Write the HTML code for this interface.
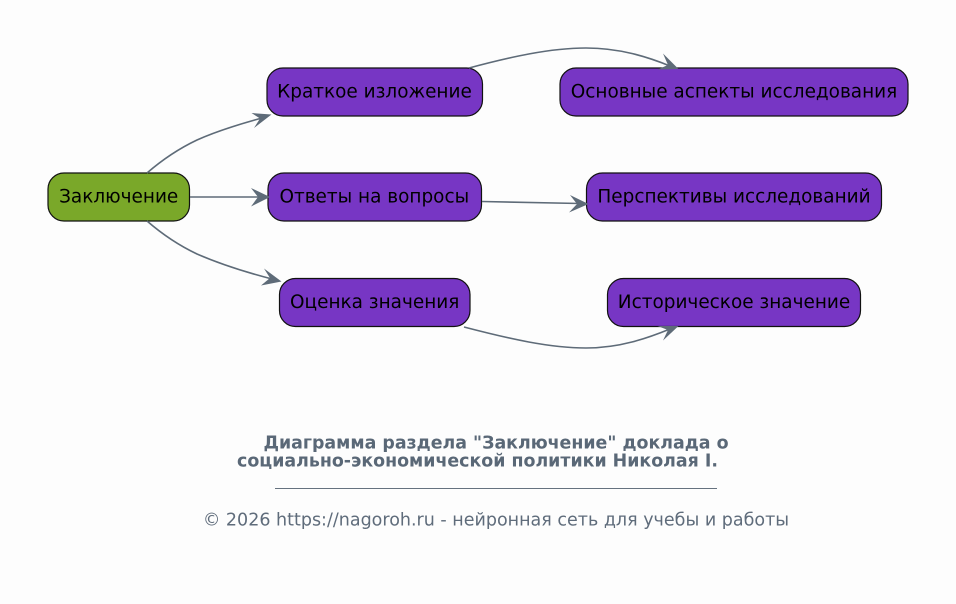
<!DOCTYPE html>
<html lang="ru">
<head>
<meta charset="utf-8">
<title>Диаграмма</title>
<style>
html,body{margin:0;padding:0;background:#fdfdfd;width:956px;height:604px;overflow:hidden}
svg{display:block}
text{font-family:"DejaVu Sans",sans-serif}
.n{font-size:18.45px;fill:#000;text-anchor:middle}
.b{fill:#7736c4;stroke:#111;stroke-width:1.2}
.e{fill:none;stroke:#5e6b78;stroke-width:1.6}
.a{fill:#5e6b78}
.t{font-size:17.4px;font-weight:bold;fill:#5a6877;text-anchor:middle}
</style>
</head>
<body>
<svg width="956" height="604" viewBox="0 0 956 604" xmlns="http://www.w3.org/2000/svg">
<rect width="956" height="604" fill="#fdfdfd"/>

<rect class="b" x="48" y="173" width="141.500" height="48" rx="16" style="fill:#7aa829"/>
<text class="n" x="118.700" y="202.500">Заключение</text>

<rect class="b" x="267" y="68" width="215.500" height="48" rx="16"/>
<text class="n" x="374.500" y="97.500">Краткое изложение</text>
<rect class="b" x="268" y="173" width="213.500" height="48" rx="16"/>
<text class="n" x="374.300" y="202.500">Ответы на вопросы</text>
<rect class="b" x="279.500" y="278.500" width="190.500" height="48" rx="16"/>
<text class="n" x="374.700" y="308">Оценка значения</text>

<rect class="b" x="560" y="68" width="348" height="48" rx="16"/>
<text class="n" x="734" y="97.500">Основные аспекты исследования</text>
<rect class="b" x="586.500" y="173" width="295" height="48" rx="16"/>
<text class="n" x="734" y="202.500">Перспективы исследований</text>
<rect class="b" x="607.500" y="278.500" width="253" height="48" rx="16"/>
<text class="n" x="734" y="308">Историческое значение</text>

<path class="e" d="M147 173C162 160 178 149 197 140C217 131 240 124 262 118"/>
<path class="a" d="M271.500 114.500L254 128L260 118.500L251.500 113Z"/>
<path class="e" d="M190 197L262 197"/>
<path class="a" d="M270 197L251 206.500L258 197L251 188Z"/>
<path class="e" d="M147 221C162 234 178 245 197 254C220 264 245 272 272 279"/>
<path class="a" d="M281.500 281.500L261 285.500L270 278L264 268.500Z"/>
<path class="e" d="M469 68C510 57 550 48 586 48C620 48 648 57 670 66"/>
<path class="a" d="M678.500 69L657.500 69.500L668 65L663 53.500Z"/>
<path class="e" d="M482 201.500L580 203.500"/>
<path class="a" d="M588.500 204L569 212.500L577 204L570 195Z"/>
<path class="e" d="M464 327C510 339 550 348 586 348C620 348 648 338 670 329"/>
<path class="a" d="M678.500 326L663 340.500L668 330L657.500 326Z"/>

<text class="t" x="496" y="448.500">Диаграмма раздела "Заключение" доклада о</text>
<text class="t" x="477.500" y="466.500">социально-экономической политики Николая I.</text>
<rect x="275" y="488" width="442" height="1" fill="#66727f"/>
<text x="496" y="525.500" font-size="17.5" fill="#5f6c7b" text-anchor="middle">© 2026 https://nagoroh.ru - нейронная сеть для учебы и работы</text>
</svg>
</body>
</html>
